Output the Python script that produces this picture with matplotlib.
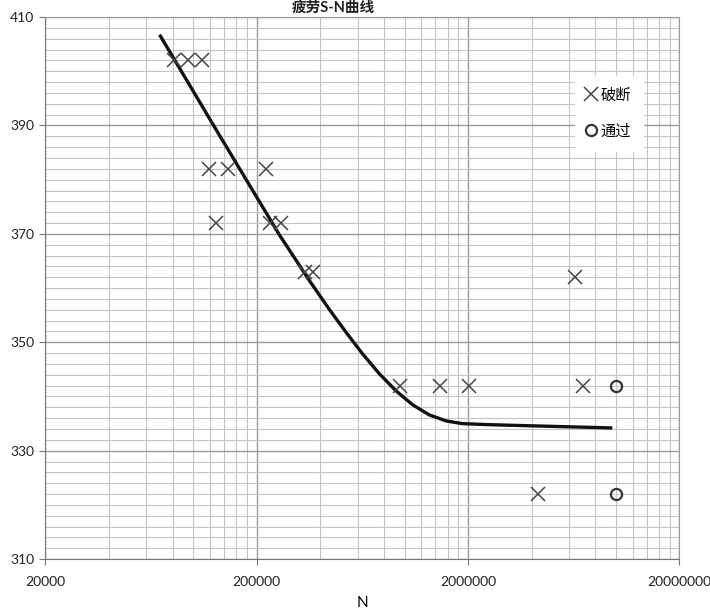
import matplotlib.pyplot as plt
import numpy as np
from matplotlib.ticker import FixedLocator, FixedFormatter, NullFormatter

plt.rcParams['font.family'] = ['Lato', 'Noto Sans CJK SC', 'DejaVu Sans']

# 破断 (failed) specimens: cycles, stress
break_n = [81500, 95000, 110000,
           119000, 146000, 220000,
           128000, 232000, 259000,
           340000, 370000,
           950000, 1480000, 2020000,
           6400000, 7000000, 4300000]
break_s = [402, 402, 402,
           382, 382, 382,
           372, 372, 372,
           363, 363,
           342, 342, 342,
           362, 342, 322]

# 通过 (run-out) specimens
pass_n = [10000000, 10000000]
pass_s = [342, 322]

# fitted S-N curve
curve_n = [70000, 129000, 256000, 356000, 442000, 530000, 632000,
           760000, 914000, 1090000, 1310000, 1570000, 1870000,
           2500000, 3880000, 9450000]
curve_s = [406.5, 389.1, 369.8, 361.3, 356.0, 351.8, 347.9,
           344.2, 341.0, 338.5, 336.6, 335.5, 335.0,
           334.8, 334.6, 334.2]

x_ticks = [20000, 200000, 2000000, 20000000]
x_labels = ['20000', '200000', '2000000', '20000000']
y_ticks = [310, 330, 350, 370, 390, 410]

fig = plt.figure(figsize=(7.1, 6.11), dpi=100)
ax = fig.add_axes([0.064, 0.085, 0.893, 0.887])

ax.set_xscale('log')
ax.set_xlim(20000, 20000000)
ax.set_ylim(310, 410)

# excel-style log grid: majors at 2*10^n, minors at k*2*10^n
minor_x = [20000 * 10**d * k for d in range(3) for k in range(2, 10)]
ax.xaxis.set_major_locator(FixedLocator(x_ticks))
ax.xaxis.set_major_formatter(FixedFormatter(x_labels))
ax.xaxis.set_minor_locator(FixedLocator(minor_x))
ax.xaxis.set_minor_formatter(NullFormatter())
ax.set_yticks(y_ticks)
ax.set_yticks(np.arange(310, 411, 2), minor=True)

ax.grid(True, which='major', color='#9a9a9a', lw=1.0)
ax.grid(True, which='minor', color='#c4c4c4', lw=0.8)
ax.set_axisbelow(True)

for side in ['top', 'right']:
    ax.spines[side].set_color('#9a9a9a')
for side in ['left', 'bottom']:
    ax.spines[side].set_color('#777777')

ax.tick_params(which='both', length=0, labelsize=10, colors='#222222')
ax.tick_params(axis='y', which='major', length=4, color='#777777', pad=4)
ax.tick_params(axis='x', which='major', length=4, color='#777777', pad=8)

ax.plot(curve_n, curve_s, color='#111111', lw=2.4, zorder=3)
ax.plot(break_n, break_s, ls='none', marker='x', ms=10, mew=1.1,
        color='#444444', label='破断', zorder=4)
ax.plot(pass_n, pass_s, ls='none', marker='o', ms=8, mew=1.6,
        mfc='none', color='#333333', label='通过', zorder=4)

leg = ax.legend(loc='upper right', bbox_to_anchor=(0.955, 0.905), frameon=True,
                fancybox=False, edgecolor='white', framealpha=1,
                handlelength=0.6, handletextpad=0.3, labelspacing=1.4,
                fontsize=11, borderpad=0.8)

ax.set_xlabel('N', fontsize=11, labelpad=6)
fig.text(0.47, 0.999, '疲劳S-N曲线', ha='center', va='top',
         fontsize=10.5, fontweight='bold', color='#222222')

fig.savefig('out.png', dpi=100)
